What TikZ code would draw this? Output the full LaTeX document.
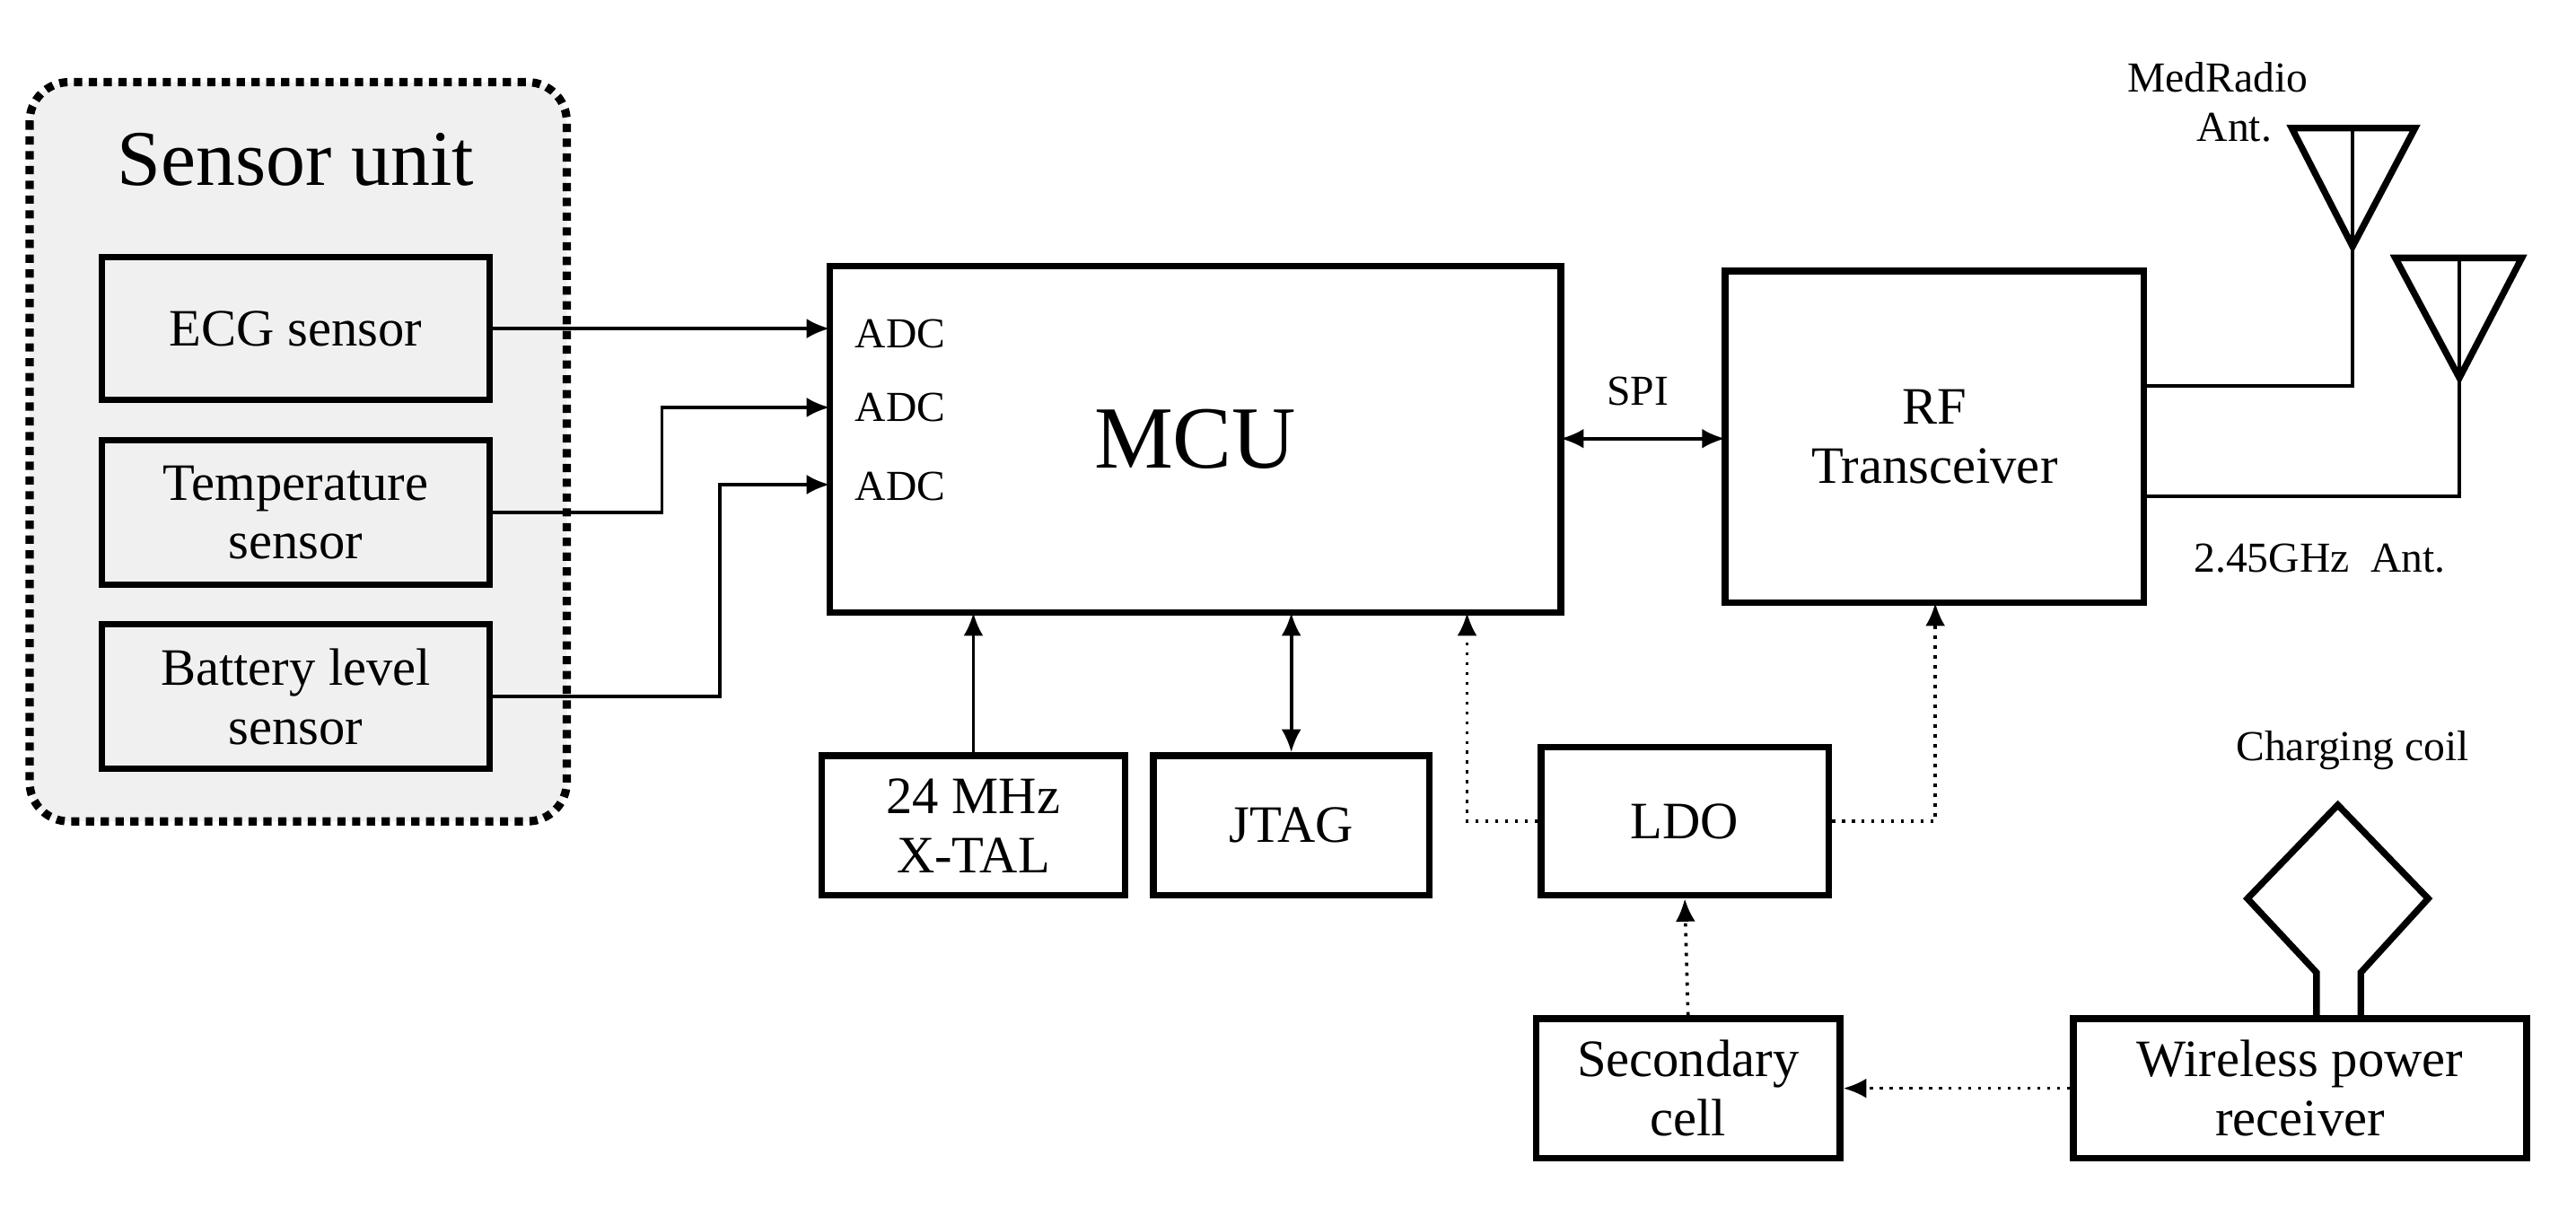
\documentclass[tikz,border=0pt]{standalone}
\usepackage{fontspec}
\setmainfont{Liberation Serif}
\usetikzlibrary{arrows.meta}
\begin{document}
\begin{tikzpicture}[x=0.5pt,y=-0.5pt,
  box/.style={draw,line width=2pt,align=center,font=\fontsize{16}{18}\selectfont,inner sep=0pt},
  con/.style={line width=1pt,-{Latex[length=7pt,width=6pt]}},
  dcon/.style={line width=1pt,{Latex[length=7pt,width=6pt]}-{Latex[length=7pt,width=6pt]}},
  dot/.style={line width=1pt,dotted,-{Latex[length=7pt,width=6pt]}},
  lbl/.style={font=\fontsize{13}{15}\selectfont,inner sep=0pt}]
\useasboundingbox (0,0) rectangle (1568,735);
\draw[line width=2.5pt,dotted,fill=black!6,rounded corners=12pt] (18,50) rectangle (345,500);
\node[font=\fontsize{24}{26}\selectfont] (su) at (180,97) {Sensor unit};
\node[box,minimum width=118pt,minimum height=43.5pt] (ecg) at (180,200) {ECG sensor};
\node[box,minimum width=118pt,minimum height=44pt] (tmp) at (180,312) {Temperature\\sensor};
\node[box,minimum width=118pt,minimum height=44pt] (bat) at (180,424) {Battery level\\sensor};
\node[box,minimum width=222.5pt,minimum height=105.5pt,font=\fontsize{27}{30}\selectfont] (mcu) at (727.5,267.5) {MCU};
\node[lbl] (a1) at (548,203) {ADC};
\node[lbl] (a2) at (548,248) {ADC};
\node[lbl] (a3) at (548,296) {ADC};
\node[box,minimum width=127.5pt,minimum height=101pt] (rf) at (1177.5,266) {RF\\Transceiver};
\node[lbl] (spi) at (997,238) {SPI};
\node[box,minimum width=92.5pt,minimum height=42.5pt] (xt) at (592.5,502.5) {24 MHz\\X-TAL};
\node[box,minimum width=84pt,minimum height=42.5pt] (jt) at (786,502.5) {JTAG};
\node[box,minimum width=87.5pt,minimum height=45pt] (ldo) at (1025.5,500) {LDO};
\node[box,minimum width=92.5pt,minimum height=42.5pt] (sc) at (1027.5,662.5) {Secondary\\cell};
\node[box,minimum width=138pt,minimum height=42.5pt] (wp) at (1400,662.5) {Wireless power\\receiver};
\coordinate (ecgR) at (298,200); \coordinate (m1) at (505,200);
\draw[con] (ecgR) -- (m1);
\coordinate (tR) at (298,312); \coordinate (m2) at (505,248);
\draw[con] (tR) -- (403,312) -- (403,248) -- (m2);
\coordinate (bR) at (298,424); \coordinate (m3) at (505,295);
\draw[con] (bR) -- (438,424) -- (438,295) -- (m3);
\coordinate (mr) at (950,267); \coordinate (rl) at (1050,267);
\draw[dcon] (mr) -- (rl);
\draw[con] (xt.north) -- (592.5,373);
\draw[dcon] (786,373) -- (jt.north);
\draw[dot] (ldo.west) -- (893,500) -- (893,373);
\draw[dot] (ldo.east) -- (1178,500) -- (1178,367);
\draw[dot] (sc.north) -- (ldo.south);
\draw[dot] (wp.west) -- (sc.east);
% charging coil
\draw[line width=2pt] (1410,620) -- (1410,592) -- (1368,547) -- (1423,490) -- (1478,547) -- (1437,592) -- (1437,620);
\node[lbl] (cc) at (1432,457) {Charging coil};
% antennas
\draw[line width=2pt] (1395,78) -- (1470,78) -- (1432,150) -- cycle;
\draw[line width=1pt] (1432,78) -- (1432,235) -- (1305,235);
\node[lbl,align=center] (med) at (1350,62) {MedRadio\\\hspace*{10pt}Ant.};
\draw[line width=2pt] (1458,157) -- (1535,157) -- (1497,230) -- cycle;
\draw[line width=1pt] (1497,157) -- (1497,302) -- (1305,302);
\node[lbl] (ant2) at (1412,340) {2.45GHz\ \ Ant.};
\end{tikzpicture}
\end{document}
